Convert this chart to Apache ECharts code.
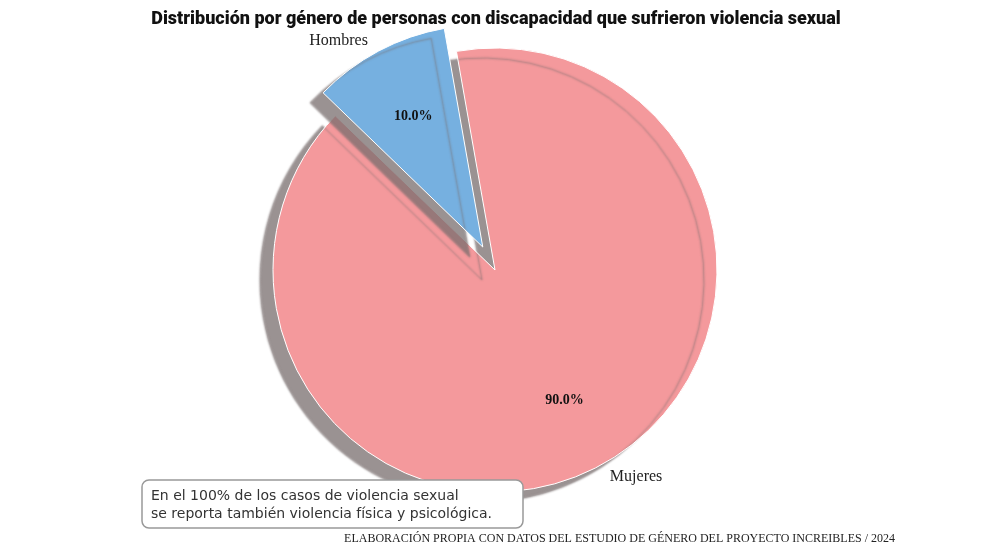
<!DOCTYPE html>
<html>
<head>
<meta charset="utf-8">
<script src="https://cdn.jsdelivr.net/npm/echarts@6/dist/echarts.min.js"></script>
<style>html,body{margin:0;padding:0;background:#fff}#chart{width:992px;height:558px}</style>
</head>
<body>
<div id="chart"></div>
<script>
const categories = ['Hombres', 'Mujeres'];
const values = [10, 90];
const colors = ['#76b0e0', '#f4999c'];

const chart = echarts.init(document.getElementById('chart'));

function pieData(hidden) {
    return categories.map(function (name, i) {
        return {
            name: name, value: values[i], selected: i === 0,
            itemStyle: hidden ? { color: 'rgba(0,0,0,0)', borderWidth: 0, shadowBlur: 0, shadowColor: 'rgba(0,0,0,0)' } : { color: colors[i] }
        };
    });
}

const common = {
    type: 'pie',
    center: [495, 270],
    startAngle: 136,
    selectedMode: 'single',
    selectedOffset: 26,
    animation: false,
    silent: true
};

chart.setOption({
    title: {
        text: 'Distribución por género de personas con discapacidad que sufrieron violencia sexual',
        left: 'center',
        top: 5,
        textStyle: { fontFamily: 'Roboto', fontWeight: 900, fontSize: 18, color: '#111' }
    },
    series: [
        Object.assign({}, common, {
            radius: 222,
            data: pieData(false),
            label: { show: false },
            labelLine: { show: false },
            itemStyle: { borderColor: '#fff', borderWidth: 1, shadowColor: 'rgba(120,110,110,0.75)', shadowOffsetX: -13, shadowOffsetY: 10, shadowBlur: 2 }
        }),
        Object.assign({}, common, {
            radius: [0, 290],
            data: pieData(true),
            label: {
                show: true, position: 'inside',
                formatter: function (p) { return p.percent.toFixed(1) + '%'; },
                fontFamily: 'Liberation Serif', fontWeight: 'bold', fontSize: 14, color: '#111'
            },
            labelLine: { show: false }
        }),
        Object.assign({}, common, {
            radius: 222,
            data: pieData(true),
            label: {
                show: true, position: 'outside', distance: 22,
                formatter: '{b}',
                fontFamily: 'Liberation Serif', fontSize: 16, color: '#222'
            },
            labelLine: { show: false, length: 12, length2: 0 }
        })
    ],
    graphic: [
        {
            type: 'rect', z: 100,
            shape: { x: 142, y: 480, width: 381, height: 48, r: 7 },
            style: { fill: '#fff', stroke: '#999', lineWidth: 1.5 }
        },
        {
            type: 'text', left: 151, top: 487, z: 101,
            style: { text: 'En el 100% de los casos de violencia sexual\nse reporta también violencia física y psicológica.', font: '14px "DejaVu Sans"', fill: '#333', lineHeight: 18 }
        },
        {
            type: 'text', right: 97, top: 533, z: 101,
            style: { text: 'ELABORACIÓN PROPIA CON DATOS DEL ESTUDIO DE GÉNERO DEL PROYECTO INCREIBLES / 2024', font: '12px "Liberation Serif"', fill: '#222' }
        }
    ]
});
</script>
</body>
</html>
